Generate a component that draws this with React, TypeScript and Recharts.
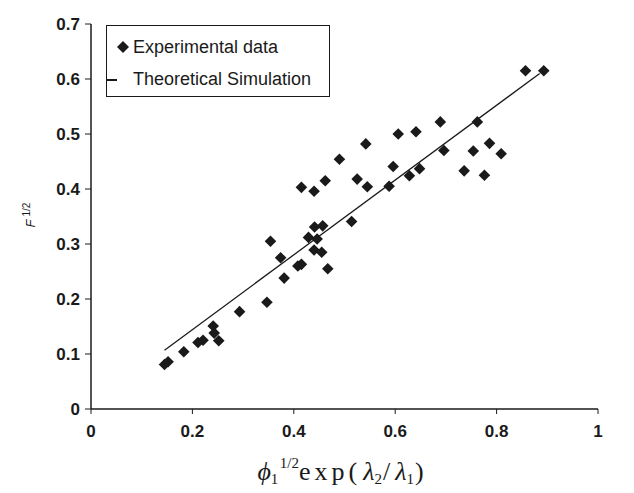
import React from "react";
import { ScatterChart, Scatter, XAxis, YAxis } from "recharts";

const expX = [0.145, 0.152, 0.183, 0.211, 0.221, 0.241, 0.243, 0.252, 0.293, 0.347, 0.354, 0.374, 0.381, 0.408, 0.415, 0.415, 0.44, 0.429, 0.446, 0.441, 0.457, 0.44, 0.455, 0.467, 0.462, 0.49, 0.514, 0.525, 0.542, 0.545, 0.588, 0.596, 0.606, 0.628, 0.641, 0.648, 0.689, 0.696, 0.736, 0.754, 0.762, 0.776, 0.786, 0.809, 0.857, 0.893];
const expY = [0.081, 0.086, 0.104, 0.121, 0.125, 0.151, 0.138, 0.124, 0.177, 0.194, 0.305, 0.275, 0.238, 0.26, 0.263, 0.403, 0.396, 0.312, 0.309, 0.331, 0.333, 0.289, 0.285, 0.255, 0.415, 0.454, 0.341, 0.418, 0.482, 0.404, 0.405, 0.441, 0.5, 0.424, 0.504, 0.437, 0.522, 0.47, 0.433, 0.469, 0.522, 0.425, 0.483, 0.464, 0.615, 0.615];
const simX = [0.145, 0.885];
const simY = [0.107, 0.61];
const xTicks = [0, 0.2, 0.4, 0.6, 0.8, 1];
const yTicks = [0, 0.1, 0.2, 0.3, 0.4, 0.5, 0.6, 0.7];
const legendLabels = ["Experimental data", "Theoretical Simulation"];

const expData = expX.map((x, i) => ({ x, y: expY[i] }));
const simData = simX.map((x, i) => ({ x, y: simY[i] }));

const INK = "#1a1a1a";
const SANS = "Arial, 'Liberation Sans', sans-serif";
const SERIF = "'Liberation Serif', 'Times New Roman', serif";

const Diamond = (props: any) => {
  const { cx, cy } = props;
  const r = 5.8;
  return <path d={`M${cx},${cy - r}L${cx + r},${cy}L${cx},${cy + r}L${cx - r},${cy}Z`} fill={INK} />;
};

const NoShape = () => <g />;

const fmt = (v: number) => (v === 0 ? "0" : v === 1 ? "1" : String(v));

const LegendBox = () => (
  <div
    style={{
      position: "absolute",
      left: 98,
      top: 17,
      width: 222,
      height: 70,
      border: `1.5px solid ${INK}`,
      fontFamily: SANS,
      fontSize: 18,
      lineHeight: "21px",
      color: INK,
      background: "#fff",
    }}
  >
    <svg width={12} height={12} style={{ position: "absolute", left: 10, top: 15 }}>
      <path d="M6,0L12,6L6,12L0,6Z" fill={INK} />
    </svg>
    <span style={{ position: "absolute", left: 26, top: 11, whiteSpace: "nowrap" }}>{legendLabels[0]}</span>
    <div style={{ position: "absolute", left: 0, top: 53, width: 10, height: 1.5, background: INK }} />
    <span style={{ position: "absolute", left: 26, top: 43, whiteSpace: "nowrap" }}>{legendLabels[1]}</span>
  </div>
);

const XLabel = (props: any) => {
  const vb = props.viewBox || {};
  const cx = vb.x + vb.width / 2 - 4;
  const y = vb.y + 71;
  return (
    <text x={cx} y={y} textAnchor="middle" fontFamily={SERIF} fontSize={26} fill={INK}>
      <tspan fontStyle="italic">ϕ</tspan>
      <tspan fontSize={15} dy={4}>1</tspan>
      <tspan fontSize={15} dy={-16} dx={2}>1/2</tspan>
      <tspan dy={12} letterSpacing={4}>exp(</tspan>
      <tspan fontStyle="italic" dx={2}>λ</tspan>
      <tspan fontSize={15} dy={4}>2</tspan>
      <tspan dy={-4} dx={1}>/</tspan>
      <tspan fontStyle="italic" dx={5}>λ</tspan>
      <tspan fontSize={15} dy={4}>1</tspan>
      <tspan dy={-4} dx={1}>)</tspan>
    </text>
  );
};

const YLabel = () => (
  <text
    x={0}
    y={0}
    transform="translate(27,207) rotate(-90)"
    textAnchor="middle"
    fontFamily={SANS}
    fontSize={13}
    fill={INK}
  >
    <tspan fontStyle="italic">F</tspan>
    <tspan fontSize={10} dy={-5} dx={3}>1/2</tspan>
  </text>
);

export default function App() {
  return (
    <div style={{ position: "relative", width: 626, height: 485, background: "#fff" }}>
      <ScatterChart width={626} height={485} margin={{ top: 16, right: 36, bottom: 0, left: 0 }}>
        <XAxis
          type="number"
          dataKey="x"
          domain={[0, 1]}
          ticks={xTicks}
          tickFormatter={fmt}
          tickSize={5}
          tickMargin={11}
          axisLine={{ stroke: INK, strokeWidth: 1.5 }}
          tickLine={{ stroke: INK, strokeWidth: 1 }}
          tick={{ fill: INK, fontFamily: SANS, fontSize: 17, fontWeight: "bold" }}
          height={84}
          label={<XLabel />}
        />
        <YAxis
          type="number"
          dataKey="y"
          domain={[0, 0.7]}
          ticks={yTicks}
          tickFormatter={fmt}
          tickSize={6}
          tickMargin={5}
          width={83}
          axisLine={{ stroke: INK, strokeWidth: 1.5 }}
          tickLine={{ stroke: INK, strokeWidth: 1 }}
          tick={{ fill: INK, fontFamily: SANS, fontSize: 17, fontWeight: "bold" }}
          label={<YLabel />}
        />
        <Scatter
          data={simData}
          line={{ stroke: INK, strokeWidth: 1.3 }}
          shape={NoShape}
          legendType="none"
          isAnimationActive={false}
        />
        <Scatter data={expData} shape={Diamond} isAnimationActive={false} />
      </ScatterChart>
      <LegendBox />
    </div>
  );
}
